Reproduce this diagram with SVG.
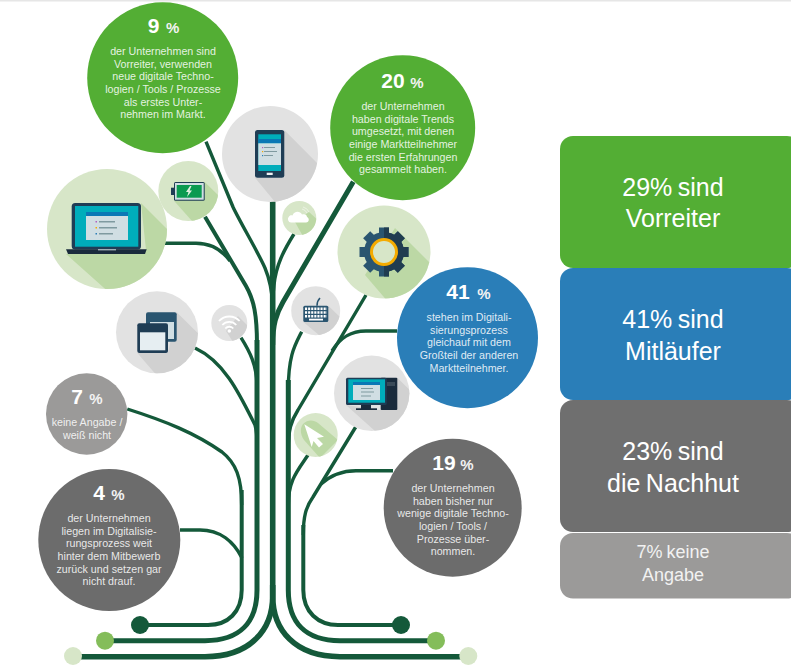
<svg xmlns="http://www.w3.org/2000/svg" width="791" height="667" viewBox="0 0 791 667">
<style>
text{font-family:"Liberation Sans",Arial,sans-serif;text-anchor:middle}
.b{fill:none;stroke:#14593a;stroke-linecap:butt;stroke-linejoin:round}
.w3{stroke-width:3.4}.w4{stroke-width:4}.w5{stroke-width:5}.w6{stroke-width:5.6}
.num{font-size:21px;font-weight:bold;fill:#fff}
.pc{font-size:15px;font-weight:bold;fill:#f2f2f2}
.t{font-size:10.700px;fill:#fff;fill-opacity:.86}
.big{font-size:25px;fill:#fff;word-spacing:-1.500px}
.small{font-size:18px;fill:#f2f2f2;word-spacing:-1px}
.lg{fill:#d7e6c8}.lgs{fill:#bcd8a5}.gr{fill:#e2e2e2}.grs{fill:#d1d1d1}
.navy{fill:#1f3d55}.navy2{fill:#2a5570}.teal{fill:#00adbb}.pale{fill:#d0dee3}.hdr{fill:#0a78b5}.ink{fill:#1a2b3c}
.ln{fill:#7f9aa0}
</style>
<defs>
<clipPath id="c-laptop"><circle cx="107" cy="229" r="60"/></clipPath>
<clipPath id="c-batt"><circle cx="188.300" cy="191" r="30"/></clipPath>
<clipPath id="c-phone"><circle cx="270" cy="154" r="48"/></clipPath>
<clipPath id="c-cloud"><circle cx="299.300" cy="218" r="17"/></clipPath>
<clipPath id="c-gear"><circle cx="384" cy="252" r="46.500"/></clipPath>
<clipPath id="c-key"><circle cx="315.700" cy="310.700" r="24.500"/></clipPath>
<clipPath id="c-win"><circle cx="157" cy="332.300" r="41"/></clipPath>
<clipPath id="c-wifi"><circle cx="229.300" cy="323" r="18"/></clipPath>
<clipPath id="c-mon"><circle cx="371.700" cy="393.300" r="37.700"/></clipPath>
<clipPath id="c-cur"><circle cx="315.700" cy="435" r="22"/></clipPath>
<clipPath id="gear-right"><rect x="384" y="220" width="32" height="64"/></clipPath>
<g id="gearshape">
<circle cx="384" cy="252" r="20"/>
<rect x="379" y="227.500" width="10" height="49"/>
<rect x="379" y="227.500" width="10" height="49" transform="rotate(45 384 252)"/>
<rect x="379" y="227.500" width="10" height="49" transform="rotate(90 384 252)"/>
<rect x="379" y="227.500" width="10" height="49" transform="rotate(135 384 252)"/>
</g>
</defs>
<rect width="791" height="667" fill="#fff"/>
<rect width="791" height="1.500" fill="#e6e6e6"/>

<g id="connectors">
<path class="b w6" d="M272.700 200V585"/>
<path class="b w6" d="M272.700 585V596C272.700 630 250 656.700 205 656.700H73"/>
<path class="b w6" d="M272.700 585V596C272.700 630 295 656.700 340 656.700H468"/>
<path class="b w5" d="M257 340V590C257 622 240 640.700 205 640.700H105"/>
<path class="b w5" d="M288.300 380V590C288.300 622 305 640.700 340 640.700H436"/>
<path class="b w4" d="M241.700 490V590C241.700 612 228 625 208 625H140"/>
<path class="b w4" d="M303.300 525V590C303.300 612 318 625 338 625H401"/>
<path class="b w3" d="M206 141.700L233 207C240 222 258 252 265 268C270 280 272 290 272.700 305"/>
<path class="b w3" d="M294 234C284 250 276 265 274 285C273 292 272.700 298 272.700 305"/>
<path class="b w5" d="M353.300 181.700L283 302C276 314 272.700 325 272.700 345"/>
<path class="b w3" d="M165 243.300H196C212 243.300 222 250 230 261"/>
<path class="b w4" d="M205 216.700L246 286C254 300 257 315 257 345"/>
<path class="b w3" d="M241 337.700C250 352 256.500 365 257 385"/>
<path class="b w3" d="M195 348C225 362 240 395 255 425C256.500 430 257 436 257 445"/>
<path class="b w3" d="M127.300 409C165 421 195 433 222 452C236 463 241.700 478 241.700 505"/>
<path class="b w3" d="M180 530H200C220 530 234 542 242 558"/>
<path class="b w3" d="M301.700 331.700C295 345 288.300 355 288.300 390"/>
<path class="b w3" d="M366 295L298 410C291 421 288.300 430 288.300 450"/>
<path class="b w3" d="M397 331H366C350 331 340 338 332 351"/>
<path class="b w3" d="M308 455C298 470 288.300 480 288.300 505"/>
<path class="b w3" d="M355.700 427L313 497C306 507 303.300 516 303.300 535"/>
<path class="b w3" d="M393 470.700H356C342 470.700 331 475 321 484"/>
</g>

<g id="end-dots">
<circle cx="73" cy="656" r="9" class="lg"/>
<circle cx="105" cy="640.700" r="9" fill="#84bd5a"/>
<circle cx="140" cy="625" r="9" fill="#14593a"/>
<circle cx="468.300" cy="656" r="9" class="lg"/>
<circle cx="436" cy="640.700" r="9" fill="#84bd5a"/>
<circle cx="401" cy="625" r="9" fill="#14593a"/>
</g>

<g id="node-9">
<circle cx="162.700" cy="77.700" r="75.500" fill="#53ae34"/>
<text x="153.700" y="33" class="num">9</text><text x="172.700" y="33" class="pc">%</text>
<text x="163" y="55" class="t">der Unternehmen sind</text>
<text x="163" y="67.700" class="t">Vorreiter, verwenden</text>
<text x="163" y="80.300" class="t">neue digitale Techno-</text>
<text x="163" y="93" class="t">logien / Tools / Prozesse</text>
<text x="163" y="105.700" class="t">als erstes Unter-</text>
<text x="163" y="118.300" class="t">nehmen im Markt.</text>
</g>

<g id="node-20">
<circle cx="402.700" cy="127.700" r="72.500" fill="#53ae34"/>
<text x="393" y="88" class="num">20</text><text x="417" y="88" class="pc">%</text>
<text x="403" y="110" class="t">der Unternehmen</text>
<text x="403" y="122.700" class="t">haben digitale Trends</text>
<text x="403" y="135.300" class="t">umgesetzt, mit denen</text>
<text x="403" y="148" class="t">einige Marktteilnehmer</text>
<text x="403" y="160.700" class="t">die ersten Erfahrungen</text>
<text x="403" y="173.300" class="t">gesammelt haben.</text>
</g>

<g id="node-41">
<circle cx="467.500" cy="337.700" r="70.500" fill="#2a7eb8"/>
<text x="458" y="299" class="num">41</text><text x="484" y="299" class="pc">%</text>
<text x="469" y="321" class="t">stehen im Digitali-</text>
<text x="469" y="333.700" class="t">sierungsprozess</text>
<text x="469" y="346.300" class="t">gleichauf mit dem</text>
<text x="469" y="359" class="t">Großteil der anderen</text>
<text x="469" y="371.700" class="t">Marktteilnehmer.</text>
</g>

<g id="node-7">
<circle cx="86.700" cy="414" r="40.700" fill="#9b9a99"/>
<text x="77" y="404" class="num">7</text><text x="96" y="404" class="pc">%</text>
<text x="87" y="426" class="t">keine Angabe /</text>
<text x="87" y="438.700" class="t">weiß nicht</text>
</g>

<g id="node-4">
<circle cx="109.300" cy="540" r="71" fill="#6c6c6c"/>
<text x="99" y="500" class="num">4</text><text x="118" y="500" class="pc">%</text>
<text x="109" y="522" class="t">der Unternehmen</text>
<text x="109" y="534.700" class="t">liegen im Digitalisie-</text>
<text x="109" y="547.300" class="t">rungsprozess weit</text>
<text x="109" y="560" class="t">hinter dem Mitbewerb</text>
<text x="109" y="572.700" class="t">zurück und setzen gar</text>
<text x="109" y="585.300" class="t">nicht drauf.</text>
</g>

<g id="node-19">
<circle cx="452.700" cy="507.700" r="69" fill="#6c6c6c"/>
<text x="444" y="470" class="num">19</text><text x="467" y="470" class="pc">%</text>
<text x="453" y="492" class="t">der Unternehmen</text>
<text x="453" y="504.700" class="t">haben bisher nur</text>
<text x="453" y="517.300" class="t">wenige digitale Techno-</text>
<text x="453" y="530" class="t">logien / Tools /</text>
<text x="453" y="542.700" class="t">Prozesse über-</text>
<text x="453" y="555.300" class="t">nommen.</text>
</g>

<g id="icon-laptop">
<circle cx="107" cy="229" r="60" class="lg"/>
<polygon clip-path="url(#c-laptop)" class="lgs" points="141,203 200,262 140,320 66,254 146,250"/>
<rect x="71.700" y="203" width="69.300" height="46.500" rx="3.500" class="navy"/>
<rect x="75" y="206" width="63.300" height="40.700" class="teal"/>
<rect x="86" y="212" width="42" height="28" class="pale"/>
<rect x="86" y="212" width="42" height="4" class="hdr"/>
<rect x="99" y="221" width="16" height="1.500" class="ln"/><rect x="99" y="227" width="18" height="1.500" class="ln"/><rect x="99" y="233" width="14" height="1.500" class="ln"/>
<rect x="95.500" y="221" width="1.500" height="1.500" fill="#b060c0"/><rect x="95.500" y="227" width="1.500" height="1.500" fill="#f4ab00"/><rect x="95.500" y="233" width="1.500" height="1.500" fill="#2a7eb8"/>
<path class="ink" d="M66 249.300H146.700L145 254H68Z"/>
<rect x="98" y="249.300" width="18" height="1" fill="#d0dee3"/>
</g>

<g id="icon-battery">
<circle cx="188.300" cy="191" r="30" class="lg"/>
<polygon clip-path="url(#c-batt)" class="lgs" points="204.700,182 225,202 200,230 174,200.700"/>
<rect x="171" y="187.700" width="4" height="7.300" class="navy"/>
<rect x="174" y="182" width="30.700" height="18.700" rx="1.500" class="navy"/>
<rect x="175" y="183" width="28.700" height="16.700" fill="#d0dee3"/>
<rect x="176.700" y="185" width="25" height="12.700" fill="#0a9a50"/>
<polygon fill="#e0efe0" points="190,186 186,192 188.500,192 187,197 192,190.500 189.500,190.500 191.500,186"/>
</g>

<g id="icon-phone">
<circle cx="270" cy="154" r="48" class="gr"/>
<polygon clip-path="url(#c-phone)" class="grs" points="284.300,130 330,176 290,220 255,177.700 284.300,177.700"/>
<rect x="255" y="130" width="29.300" height="47.700" rx="2.500" class="navy"/>
<rect x="258.300" y="134.300" width="22.700" height="36.700" class="teal"/>
<rect x="258.300" y="139" width="22.700" height="4.300" class="hdr"/>
<rect x="258.300" y="143.300" width="22.700" height="21.700" class="pale"/>
<rect x="264" y="147" width="11" height="1" class="ln"/><rect x="264" y="151" width="13" height="1" class="ln"/><rect x="264" y="155" width="9" height="1" class="ln"/>
<rect x="262" y="147" width="1.200" height="1.200" fill="#b060c0"/><rect x="262" y="151" width="1.200" height="1.200" fill="#f4ab00"/><rect x="262" y="155" width="1.200" height="1.200" fill="#2a7eb8"/>
<rect x="266.700" y="172.700" width="6" height="2.300" fill="#eef2f4"/>
</g>

<g id="icon-cloud">
<circle cx="299.300" cy="218" r="17" class="lg"/>
<polygon clip-path="url(#c-cloud)" class="lgs" points="309,212 320,222 305,240 295,222"/>
<path fill="#fff" d="M291 222.500A3.500 3.500 0 0 1 289 216.500C290 215 291.500 215 292.500 215.500C294 211 300 210.500 302 214.500C305 213.500 307 215 307 217C309.500 218 309.500 222.500 306 222.500Z"/>
<path fill="none" stroke="#f0f5ea" stroke-width="0.800" d="M302 209A7 7 0 0 1 307 213M303 207A9 9 0 0 1 309 212"/>
</g>

<g id="icon-gear">
<circle cx="384" cy="252" r="46.500" class="lg"/>
<polygon clip-path="url(#c-gear)" class="lgs" points="395,228 440,273 395,310 365,275"/>
<use href="#gearshape" fill="#2a5570"/>
<use href="#gearshape" fill="#203c50" clip-path="url(#gear-right)"/>
<circle cx="384" cy="252" r="12.500" fill="#d7e6c8" stroke="#f4ab00" stroke-width="3"/>
</g>

<g id="icon-keyboard">
<circle cx="315.700" cy="310.700" r="24.500" class="gr"/>
<polygon clip-path="url(#c-key)" class="grs" points="328.300,305.700 345,322 325,340 303.300,322"/>
<path d="M317 305.700C317 302 318 300 320 298" fill="none" stroke="#2a5570" stroke-width="1.600"/>
<rect x="303.300" y="305.700" width="25" height="16.300" rx="1.500" class="navy2"/>
<path fill="none" stroke="#fff" stroke-width="2.400" stroke-dasharray="2.100 1" d="M305 308.700H327M305 312.500H327M305 316.300H327"/>
<rect x="309" y="318.700" width="14" height="1.800" fill="#fff"/>
</g>

<g id="icon-windows">
<circle cx="157" cy="332.300" r="41" class="gr"/>
<polygon clip-path="url(#c-win)" class="grs" points="176.700,312.300 205,340 165,385 137.300,353 168,353"/>
<rect x="146" y="312.300" width="30.700" height="29.400" rx="2" class="navy2"/>
<rect x="150" y="322" width="24" height="17" fill="#d0dee3"/>
<rect x="137.300" y="323.300" width="30.700" height="29.700" rx="2" class="navy"/>
<rect x="140" y="332.300" width="25.300" height="18" fill="#e6eef2"/>
</g>

<g id="icon-wifi">
<circle cx="229.300" cy="323" r="18" class="gr"/>
<polygon clip-path="url(#c-wifi)" class="grs" points="238,316 252,330 235,345 226,331"/>
<g fill="none" stroke="#fff" stroke-width="1.800">
<path d="M219 321A14 14 0 0 1 239.600 321"/><path d="M222.300 325A9.500 9.500 0 0 1 236.300 325"/><path d="M225.300 328.500A5.500 5.500 0 0 1 233.300 328.500"/>
</g>
<circle cx="229.300" cy="331" r="1.800" fill="#fff"/>
</g>

<g id="icon-monitor">
<circle cx="371.700" cy="393.300" r="37.700" class="gr"/>
<polygon clip-path="url(#c-mon)" class="grs" points="397.300,377.700 420,400 385,440 346,405 380,410"/>
<rect x="380.700" y="377.700" width="16.600" height="32.300" rx="1" class="ink"/>
<rect x="387" y="382" width="8" height="4" fill="#3a4a58"/>
<rect x="361" y="405" width="10" height="4" class="ink"/>
<rect x="356" y="408.300" width="21" height="1.700" class="ink"/>
<rect x="346" y="377.700" width="40.700" height="27.300" rx="1.500" class="navy"/>
<rect x="348.300" y="379.300" width="36.700" height="23.400" class="teal"/>
<rect x="353" y="382" width="27" height="18" class="pale"/>
<rect x="353" y="382" width="27" height="3" class="hdr"/>
<rect x="361" y="388" width="12" height="1" class="ln"/><rect x="361" y="391.500" width="13" height="1" class="ln"/><rect x="361" y="395.500" width="10" height="1" class="ln"/>
</g>

<g id="icon-cursor">
<circle cx="315.700" cy="435" r="22" class="lg"/>
<path clip-path="url(#c-cur)" class="lgs" d="M303 424C308 419 314 420 318 423L338 440L320 458L304 440C300 434 300 428 303 424Z"/>
<polygon fill="#fff" points="304.300,424.300 324,436.700 317,438 323,444 319,447.500 313.500,441 311.700,447"/>
</g>

<g id="panel-29">
<rect x="560" y="136" width="240" height="132" rx="13" fill="#53ae34"/>
<text x="673" y="196" class="big">29% sind</text>
<text x="673" y="227" class="big">Vorreiter</text>
</g>
<g id="panel-41">
<rect x="560" y="268" width="240" height="132" rx="13" fill="#2a7eb8"/>
<text x="673" y="328" class="big">41% sind</text>
<text x="673" y="360" class="big">Mitläufer</text>
</g>
<g id="panel-23">
<rect x="560" y="400" width="240" height="132" rx="13" fill="#6f6f6f"/>
<text x="673" y="460" class="big">23% sind</text>
<text x="673" y="492" class="big">die Nachhut</text>
</g>
<g id="panel-7">
<rect x="560" y="533" width="240" height="65.500" rx="13" fill="#9b9a99"/>
<text x="673" y="558" class="small">7% keine</text>
<text x="673" y="581" class="small">Angabe</text>
</g>
</svg>
